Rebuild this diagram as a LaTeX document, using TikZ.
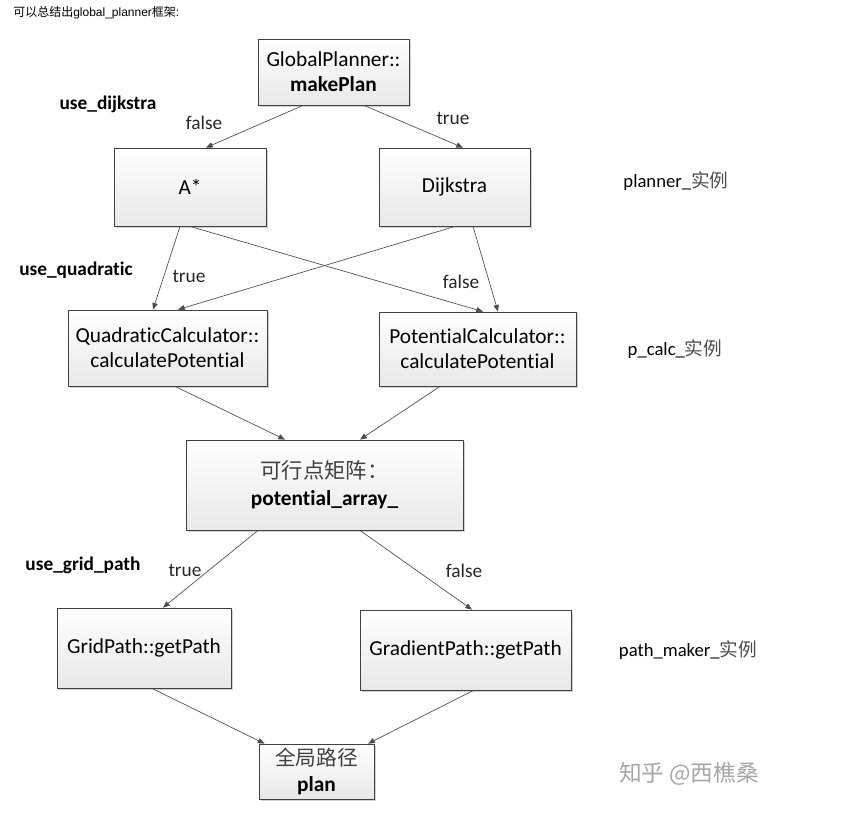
\documentclass[tikz,border=0pt]{standalone}
\usepackage{fontspec}
\setmainfont{Carlito}[Ligatures={NoCommon}]
\newfontfamily\cjk{Noto Sans CJK SC}
\newfontfamily\arial{Liberation Sans}
\usetikzlibrary{calc,shadows,arrows.meta}
\begin{document}
\begin{tikzpicture}[x=0.75pt,y=-0.75pt,
  box/.style={draw=black!75, line width=0.6pt, top color=white, bottom color=black!9,
    align=center, inner sep=0pt, font=\fontsize{16}{19}\selectfont,
    drop shadow={shadow xshift=1.2pt, shadow yshift=-1.2pt, fill=black!30, opacity=0.6}},
  conn/.style={draw=black!70, line width=0.5pt, -{Triangle[length=5pt,width=4pt]}},
  lbl/.style={font=\fontsize{14.5}{17}\selectfont, text=black!85},
  cond/.style={font=\bfseries\fontsize{14.5}{17}\selectfont},
  side/.style={font=\fontsize{14}{17}\selectfont},
]
\useasboundingbox (0,0) rectangle (850,831);

% caption
\node[anchor=west, inner sep=0pt, font=\arial\fontsize{9}{11}\selectfont] (cap) at (13,13)
  {{\cjk 可以总结出}global\_planner{\cjk 框架}:};

% boxes
\node[box, minimum width={151*0.75pt}, minimum height={66*0.75pt}] (gp) at (333.5,72)
  {GlobalPlanner::\\\textbf{makePlan}};
\node[box, minimum width={152*0.75pt}, minimum height={78*0.75pt}] (a) at (190,187) {A*};
\node[box, minimum width={151*0.75pt}, minimum height={78*0.75pt}] (d) at (454.5,187) {Dijkstra};
\node[box, minimum width={199*0.75pt}, minimum height={76*0.75pt}] (q) at (167.5,348)
  {QuadraticCalculator::\\calculatePotential};
\node[box, minimum width={197*0.75pt}, minimum height={74*0.75pt}] (p) at (477.5,349)
  {PotentialCalculator::\\calculatePotential};
\node[box, minimum width={277*0.75pt}, minimum height={90*0.75pt}, font=\fontsize{16}{20}\selectfont] (arr) at (324.5,485)
  {{\cjk\fontsize{16}{20}\selectfont\color{black!75}可行点矩阵：}\\\textbf{potential\_array\_}};
\node[box, minimum width={174*0.75pt}, minimum height={80*0.75pt}] (grid) at (144,648) {GridPath::getPath};
\node[box, minimum width={211*0.75pt}, minimum height={80*0.75pt}] (grad) at (465.5,650) {GradientPath::getPath};
\node[box, minimum width={115*0.75pt}, minimum height={55*0.75pt}, font=\fontsize{16}{20}\selectfont] (plan) at (316.5,771.5)
  {{\cjk\fontsize{15.5}{20}\selectfont\color{black!75}全局路径}\\\textbf{plan}};

% connectors
\draw[conn] ($(gp.south)+(-30.5,0)$) -- ($(a.north)+(16,0)$);
\draw[conn] ($(gp.south)+(30.5,0)$) -- ($(d.north)+(8.5,0)$);
\draw[conn] ($(a.south)+(-10,0)$) -- ($(q.north)+(-14.5,0)$);
\draw[conn] ($(a.south)+(0,0)$) -- ($(p.north)+(5.5,0)$);
\draw[conn] ($(d.south)+(0.5,0)$) -- ($(q.north)+(10.5,0)$);
\draw[conn] ($(d.south)+(18.5,0)$) -- ($(p.north)+(20.5,0)$);
\draw[conn] ($(q.south)+(7.5,0)$) -- ($(arr.north)+(-39.5,0)$);
\draw[conn] ($(p.south)+(-37.5,0)$) -- ($(arr.north)+(35.5,0)$);
\draw[conn] ($(arr.south)+(-66.5,0)$) -- ($(grid.north)+(19,0)$);
\draw[conn] ($(arr.south)+(35.5,0)$) -- ($(grad.north)+(6.5,0)$);
\draw[conn] ($(grid.south)+(8,0)$) -- ($(plan.north)+(-52,0)$);
\draw[conn] ($(grad.south)+(8,0)$) -- ($(plan.north)+(51.5,0)$);

% edge labels
\node[lbl] (l1) at (204,123) {false};
\node[lbl] (l2) at (453,118) {true};
\node[lbl] (l3) at (189,276) {true};
\node[lbl] (l4) at (461,282) {false};
\node[lbl] (l5) at (185,570) {true};
\node[lbl] (l6) at (464,571) {false};

% condition labels
\node[cond] (c1) at (108,104) {use\_dijkstra};
\node[cond] (c2) at (76,270) {use\_quadratic};
\node[cond] (c3) at (83,565) {use\_grid\_path};

% side labels
\node[side] (s1) at (676,181) {planner\_{\cjk\color{black!70}实例}};
\node[side] (s2) at (675,349) {p\_calc\_{\cjk\color{black!70}实例}};
\node[side] (s3) at (688,650) {path\_maker\_{\cjk\color{black!70}实例}};

% watermark
\node[font=\cjk\fontsize{17}{20}\selectfont, text=black!35] (wm) at (689,774) {知乎 @西樵桑};
\end{tikzpicture}
\end{document}
